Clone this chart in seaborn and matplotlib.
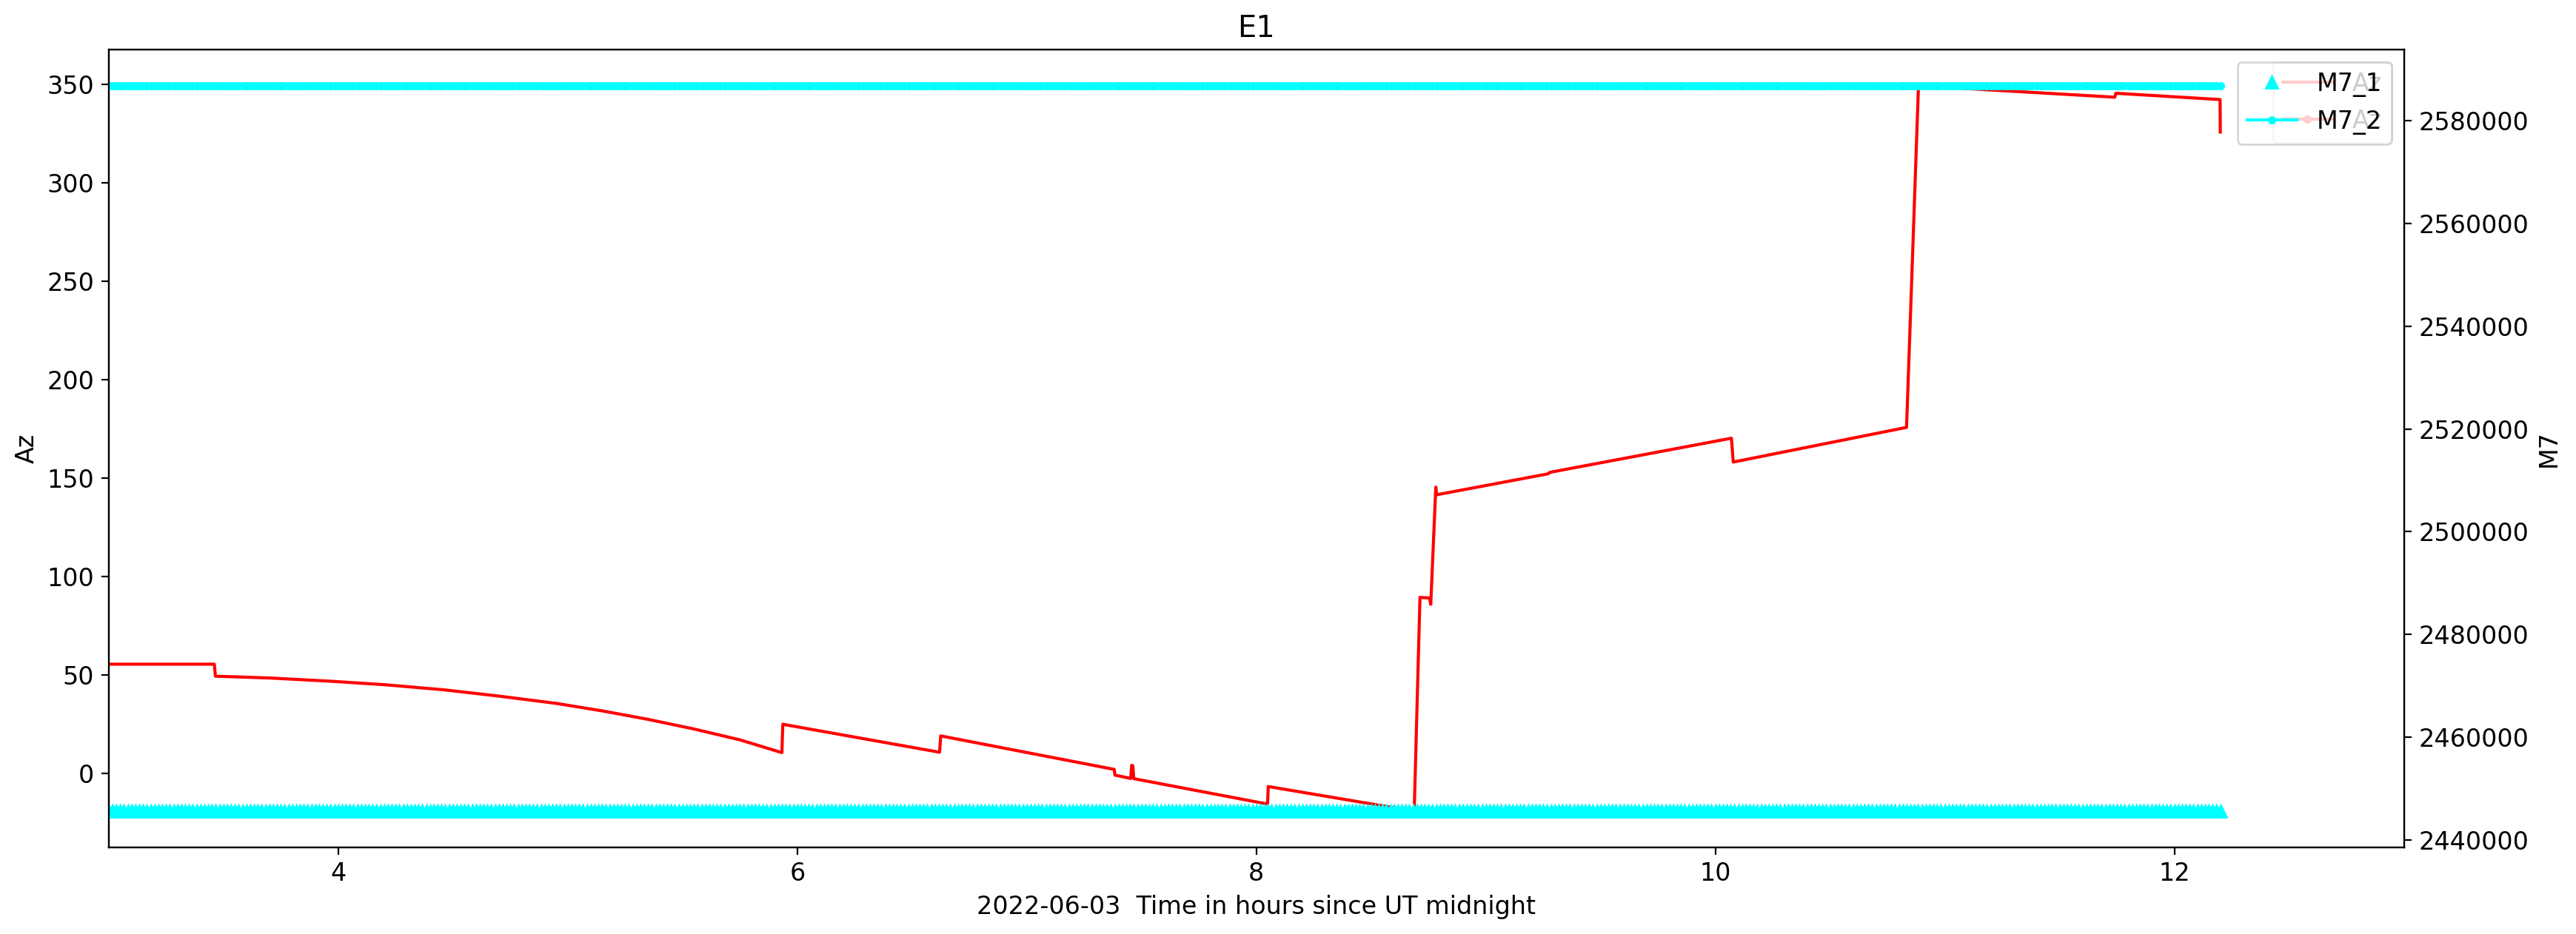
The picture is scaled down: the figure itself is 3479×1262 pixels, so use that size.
import numpy as np
import pandas as pd
import seaborn as sns
import matplotlib.pyplot as plt
from matplotlib.lines import Line2D

plt.rcParams["font.size"] = 12

# --- Az track (hours since UT midnight, degrees) ---
az_time = [3.00, 3.46, 3.465, 3.70, 3.96, 4.20, 4.46, 4.70, 4.95, 5.15, 5.35,
           5.55, 5.75, 5.933, 5.937, 6.620, 6.625, 7.381, 7.384, 7.453, 7.457,
           7.462, 7.466, 8.049, 8.052, 8.688, 8.713, 8.755, 8.760, 8.782,
           8.786, 9.270, 9.280, 10.070, 10.078, 10.833, 10.885, 11.740,
           11.745, 12.199, 12.200]
az_deg = [55.6, 55.6, 49.5, 48.6, 47.0, 45.2, 42.6, 39.4, 35.7, 31.9, 27.6,
          22.7, 17.2, 10.7, 25.1, 10.9, 19.2, 2.2, -0.7, -2.4, 4.3,
          4.0, -2.5, -15.4, -6.5, -19.0, 89.5, 89.2, 86.0, 145.5,
          141.6, 152.2, 153.0, 170.3, 158.2, 175.8, 349.2, 343.4,
          345.4, 342.2, 325.7]

# --- M7 readings: both channels stay constant over the session ---
m7_time = np.arange(3.0, 12.2001, 1 / 60)
m7_1_level = 2445600
m7_2_level = 2586800

az = pd.DataFrame({"t": az_time, "Az": az_deg})
m7 = pd.DataFrame({"t": m7_time,
                   "M7_1": np.full(len(m7_time), m7_1_level),
                   "M7_2": np.full(len(m7_time), m7_2_level)})

fig = plt.figure(figsize=(3479 / 200, 1262 / 200), dpi=200)
ax1 = fig.add_subplot(111)
fig.subplots_adjust(left=0.0422, right=0.9332, bottom=0.0927, top=0.947)

sns.lineplot(data=az, x="t", y="Az", ax=ax1, color="red", sort=False,
             estimator=None, legend=False, linewidth=1.5)
ax1.set_xlim(3, 13)
ax1.set_ylabel("Az")
ax1.set_xlabel("2022-06-03  Time in hours since UT midnight")
ax1.set_title("E1")
ax1.legend(handles=[Line2D([], [], color="red", label="Az"),
                    Line2D([], [], color="red", marker=".", label="Az")],
           loc="upper right")

ax2 = ax1.twinx()
sns.lineplot(data=m7, x="t", y="M7_1", ax=ax2, color="cyan", marker="^",
             linestyle="none", markersize=6, markeredgecolor="cyan",
             markeredgewidth=1, sort=False, estimator=None, legend=False)
sns.lineplot(data=m7, x="t", y="M7_2", ax=ax2, color="cyan", marker=".",
             markersize=6, markeredgecolor="cyan", markeredgewidth=1,
             linewidth=1.5, sort=False, estimator=None, legend=False)
ax2.ticklabel_format(axis="y", style="plain", useOffset=False)
ax2.set_ylabel("M7")
ax2.legend(handles=[Line2D([], [], color="cyan", marker="^", linestyle="none", label="M7_1"),
                    Line2D([], [], color="cyan", marker=".", label="M7_2")],
           loc="upper right")

plt.savefig("out.png", dpi=200)
plt.close()
